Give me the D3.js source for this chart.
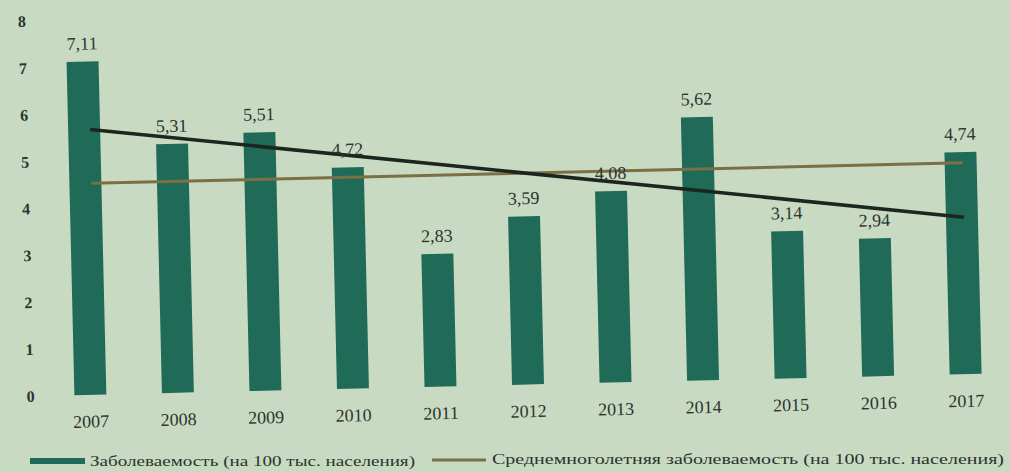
<!DOCTYPE html>
<html>
<head>
<meta charset="utf-8">
<script src="https://cdn.jsdelivr.net/npm/d3@7"></script>
<style>
  html, body { margin: 0; padding: 0; background: #c9dac3; }
  svg { display: block; }
</style>
</head>
<body>
<div id="chart"></div>
<script>
// Chart data
var years = ["2007", "2008", "2009", "2010", "2011", "2012", "2013", "2014", "2015", "2016", "2017"];
var incidence = [7.11, 5.31, 5.51, 4.72, 2.83, 3.59, 4.08, 5.62, 3.14, 2.94, 4.74];
var longTermAvg = [4.51, 4.51];   // at 2007 and 2017
var trend = [5.66, 3.35];         // linear trend at 2007 and 2017
var yTicks = [0, 1, 2, 3, 4, 5, 6, 7, 8];
var legendLabels = ["Заболеваемость (на 100 тыс. населения)", "Среднемноголетняя заболеваемость (на 100 тыс. населения)"];

var w = 1010, h = 472;
var barColor = "#1f6b58", avgColor = "#7a7044", trendColor = "#1c261f", textColor = "#2a352c";

var svg = d3.select("#chart").append("svg")
    .attr("width", w)
    .attr("height", h);

svg.append("rect").attr("width", w).attr("height", h).attr("fill", "#c9dac3");

// the photo is a little tilted, so the plot is rotated slightly
var plot = svg.append("g")
    .attr("transform", "rotate(-1.35, 505, 236)");

// Create scale functions
var xScale = d3.scaleBand().domain(years).range([27, 1022]).paddingInner(0.635).paddingOuter(0.5);
var yScale = d3.scaleLinear().domain([0, 8]).range([385, 10]);

// Y axis
var yAxis = d3.axisLeft(yScale).tickValues(yTicks).tickSize(0).tickPadding(0);
var gy = plot.append("g")
    .attr("transform", "translate(31,0)")
    .call(yAxis);
gy.select(".domain").remove();
gy.selectAll("text")
    .attr("font-family", "Liberation Serif, serif")
    .attr("font-size", 16)
    .attr("font-weight", "bold")
    .attr("fill", textColor);

// X axis
var xAxis = d3.axisBottom(xScale).tickSize(0).tickPadding(20);
var gx = plot.append("g")
    .attr("transform", "translate(0," + yScale(0) + ")")
    .call(xAxis);
gx.select(".domain").remove();
gx.selectAll("text")
    .attr("font-family", "Liberation Serif, serif")
    .attr("font-size", 18)
    .attr("fill", textColor);

// Create bars
plot.selectAll("rect.bar").data(incidence).enter().append("rect")
    .attr("class", "bar")
    .attr("x", function(d, i) { return xScale(years[i]); })
    .attr("y", function(d) { return yScale(d); })
    .attr("width", xScale.bandwidth())
    .attr("height", function(d) { return yScale(0) - yScale(d); })
    .attr("fill", barColor);

// Long-term average line and trend line
var xEnds = [years[0], years[years.length - 1]];
var line = d3.line()
    .x(function(d, i) { return xScale(xEnds[i]) + xScale.bandwidth() / 2 + (i === 0 ? 6 : 2); })
    .y(function(d) { return yScale(d); });

plot.append("path").datum(longTermAvg)
    .attr("d", line)
    .attr("fill", "none")
    .attr("stroke", avgColor)
    .attr("stroke-width", 3);

plot.append("path").datum(trend)
    .attr("d", line)
    .attr("fill", "none")
    .attr("stroke", trendColor)
    .attr("stroke-width", 3.5);

// Value labels
plot.selectAll("text.val").data(incidence).enter().append("text")
    .attr("class", "val")
    .attr("x", function(d, i) { return xScale(years[i]) + xScale.bandwidth() / 2; })
    .attr("y", function(d) { return yScale(d) - 12; })
    .attr("text-anchor", "middle")
    .attr("font-family", "Liberation Serif, serif")
    .attr("font-size", 18)
    .attr("fill", textColor)
    .text(function(d) { return d.toFixed(2).replace(".", ","); });

// Legend
var legend = svg.append("g").attr("transform", "translate(0,461)");
legend.append("rect")
    .attr("x", 30).attr("y", -3).attr("width", 55).attr("height", 6)
    .attr("fill", barColor);
legend.append("text")
    .attr("x", 90).attr("y", 5)
    .attr("font-family", "Liberation Serif, serif")
    .attr("font-size", 14)
    .attr("textLength", 325)
    .attr("lengthAdjust", "spacingAndGlyphs")
    .attr("fill", textColor)
    .text(legendLabels[0]);
legend.append("line")
    .attr("x1", 432).attr("x2", 486).attr("y1", -1).attr("y2", -1)
    .attr("stroke", avgColor).attr("stroke-width", 3);
legend.append("text")
    .attr("x", 492).attr("y", 3)
    .attr("font-family", "Liberation Serif, serif")
    .attr("font-size", 14)
    .attr("textLength", 512)
    .attr("lengthAdjust", "spacingAndGlyphs")
    .attr("fill", textColor)
    .text(legendLabels[1]);
</script>
</body>
</html>
